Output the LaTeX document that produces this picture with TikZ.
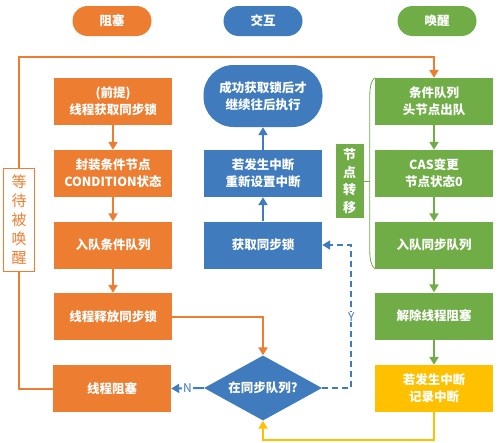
\documentclass[tikz,border=0pt]{standalone}
\usepackage{fontspec}
\setmainfont{Noto Sans CJK SC}
\usepackage{tikz}
\usetikzlibrary{arrows.meta}
\usetikzlibrary{shapes.geometric}
\definecolor{zsorange}{HTML}{ED7D31}
\definecolor{zsblue}{HTML}{3F7BBD}
\definecolor{zsgreen}{HTML}{70AD47}
\definecolor{zsyellow}{HTML}{FFC000}

\begin{document}
\begin{tikzpicture}[x=1pt,y=-1pt]
\tikzset{box/.style={rectangle,minimum width=118pt,minimum height=47pt,inner sep=2pt,text=white,align=center,font=\fontsize{12.5}{17}\selectfont\bfseries},
obox/.style={box,fill=zsorange},bbox/.style={box,fill=zsblue},gbox/.style={box,fill=zsgreen},
pill/.style={rectangle,rounded corners=15pt,minimum width=79pt,minimum height=30pt,text=white,font=\fontsize{12.5}{15}\selectfont\bfseries},
tag/.style={fill=white,inner sep=1pt,text=zsblue,font=\fontsize{12}{14}\selectfont},
flow/.style={line width=2pt,-{Triangle[width=9pt,length=8pt]}}}
\useasboundingbox (0,0) rectangle (500,442);

% column heads
\node[pill,fill=zsorange] (hblock) at (112,21) {阻塞};
\node[pill,fill=zsblue] (hinter) at (263,21) {交互};
\node[pill,fill=zsgreen] (hwake) at (437,21) {唤醒};

% blocking side
\node[obox] (lock) at (113,101.5) {(前提)\\线程获取同步锁};
\node[obox] (pack) at (113,173.5) {封装条件节点\\CONDITION状态};
\node[obox] (enq) at (113,245) {入队条件队列};
\node[obox] (release) at (113,316.5) {线程释放同步锁};
\node[obox] (park) at (112,388.5) {线程阻塞};
\node[draw=zsorange,line width=1.5pt,fill=white,text=zsorange,minimum width=31pt,minimum height=103pt,inner sep=0pt,align=center,font=\fontsize{15}{19}\selectfont] (wait) at (19,220) {等\\待\\被\\唤\\醒};

% interaction
\node[bbox,rounded corners=30pt,minimum width=119pt,minimum height=62pt] (done) at (263,96) {成功获取锁后才\\继续往后执行};
\node[bbox] (intr) at (263,173.5) {若发生中断\\重新设置中断};
\node[bbox] (acq) at (263,245) {获取同步锁};
\node[diamond,aspect=1.8,fill=zsblue,minimum width=118pt,minimum height=65pt,inner sep=0pt,text=white,font=\fontsize{12.5}{15}\selectfont\bfseries] (insync) at (263,388) {在同步队列?};

% wake-up side
\node[gbox] (deq) at (434,101.5) {条件队列\\头节点出队};
\node[gbox] (cas) at (434,173.5) {CAS变更\\节点状态0};
\node[gbox] (syncq) at (434,245) {入队同步队列};
\node[gbox] (unpark) at (434,316) {解除线程阻塞};
\node[box,fill=zsyellow] (record) at (434,388.5) {若发生中断\\记录中断};
\node[fill=zsgreen,minimum width=28pt,minimum height=74pt,inner sep=0pt,text=white,align=center,font=\fontsize{13}{17.5}\selectfont\bfseries] (move) at (349.5,181) {节\\点\\转\\移};

\draw[flow,zsorange] (lock) -- (pack);
\draw[flow,zsorange] (pack) -- (enq);
\draw[flow,zsorange] (enq) -- (release);
\draw[flow,zsorange] (release.east) -| (insync.north);
\draw[line width=2pt,zsorange] (park.west) -| (wait.south);
\draw[flow,zsorange] (wait.north) |- ([yshift=21pt]deq.north) -- (deq.north);

\draw[flow,zsblue] (acq) -- (intr);
\draw[flow,zsblue] (intr) -- (done);
\draw[flow,zsblue] (insync.west) -- node[tag] {N} (park.east);
\draw[flow,zsblue,dash pattern=on 6pt off 4pt] (insync.east) -| ([xshift=29pt]acq.east) -- node[tag,pos=0,yshift=-72pt] {Y} (acq.east);

\draw[flow,zsgreen] (deq) -- (cas);
\draw[flow,zsgreen] (cas) -- (syncq);
\draw[flow,zsgreen] (syncq) -- (unpark);
\draw[flow,zsgreen] (unpark) -- (record);
\draw[flow,zsyellow] (record.south) -- ([yshift=-28pt]record.south) -| (insync.south);

% bracket round the moved node
\draw[zsgreen,line width=0.8pt] (deq.north west) .. controls +(-4,3) and +(0,-8) .. ++(-5,18) -- ([xshift=-5pt,yshift=18pt]syncq.south west) .. controls +(0,8) and +(-4,-3) .. (syncq.south west);
\draw[zsgreen,line width=0.8pt] (move.east) -- ++(6.5,0);
\end{tikzpicture}
\end{document}
